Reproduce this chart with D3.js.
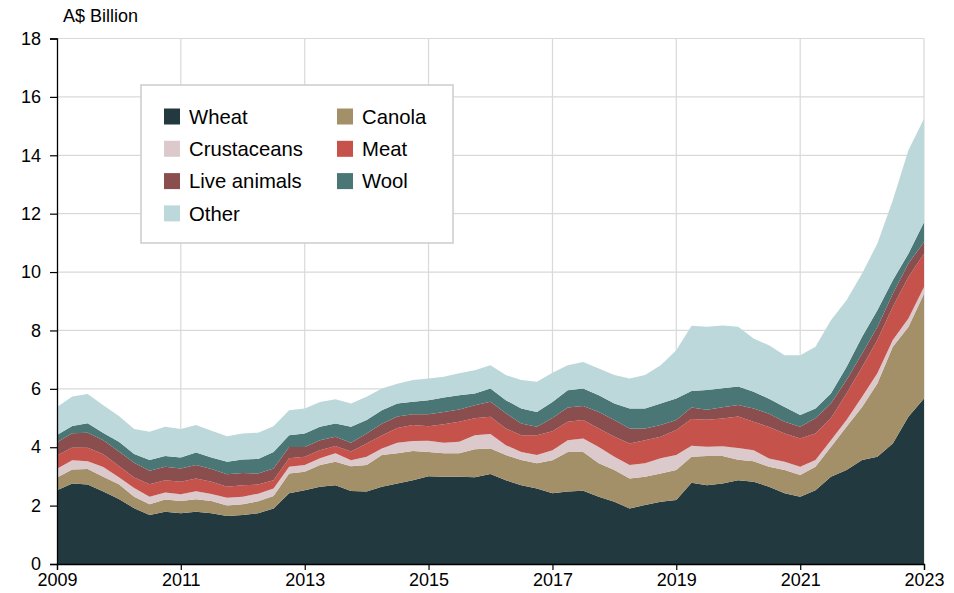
<!DOCTYPE html>
<html>
<head>
<meta charset="utf-8">
<script src="https://cdn.jsdelivr.net/npm/d3@7"></script>
<style>
  body { margin: 0; background: #fff; }
  text { font-family: "Liberation Sans", Arial, sans-serif; fill: #000; }
</style>
</head>
<body>
<svg width="954" height="593"></svg>
<script>
// quarterly values, A$ billion, Jan 2009 .. Jan 2023
var wheat = [2.53,2.76,2.72,2.48,2.23,1.91,1.68,1.79,1.74,1.79,1.74,1.64,1.68,1.74,1.90,2.42,2.53,2.65,2.70,2.50,
  2.48,2.65,2.76,2.87,3.01,2.99,2.99,2.97,3.08,2.87,2.70,2.59,2.42,2.48,2.51,2.30,2.13,1.90,2.02,2.13,
  2.19,2.78,2.70,2.76,2.87,2.82,2.65,2.42,2.30,2.53,2.99,3.22,3.56,3.67,4.13,5.04,5.67];
var canola = [0.43,0.48,0.53,0.51,0.50,0.39,0.37,0.42,0.42,0.43,0.42,0.36,0.37,0.41,0.43,0.68,0.63,0.74,0.80,0.85,
  0.91,1.08,1.03,1.00,0.83,0.80,0.80,0.96,0.88,0.86,0.86,0.86,1.13,1.36,1.33,1.15,1.09,1.03,0.97,0.97,
  1.03,0.89,1.00,0.94,0.70,0.70,0.68,0.80,0.75,0.80,1.02,1.48,1.82,2.51,3.31,3.08,3.59];
var crustaceans = [0.30,0.31,0.27,0.33,0.24,0.30,0.25,0.24,0.23,0.27,0.24,0.27,0.25,0.26,0.26,0.23,0.23,0.23,0.29,0.20,
  0.28,0.23,0.36,0.34,0.38,0.36,0.40,0.48,0.49,0.34,0.28,0.28,0.35,0.40,0.46,0.56,0.45,0.46,0.46,0.52,
  0.51,0.38,0.32,0.33,0.40,0.38,0.28,0.28,0.28,0.23,0.23,0.23,0.35,0.35,0.23,0.29,0.23];
var meat = [0.46,0.44,0.46,0.44,0.39,0.36,0.43,0.42,0.43,0.44,0.42,0.38,0.40,0.31,0.28,0.29,0.28,0.28,0.25,0.30,
  0.46,0.44,0.51,0.55,0.50,0.64,0.68,0.58,0.59,0.57,0.57,0.68,0.65,0.63,0.63,0.63,0.69,0.74,0.79,0.74,
  0.86,0.92,0.92,0.95,1.08,0.97,1.08,0.97,0.97,0.91,0.75,0.91,1.02,1.14,1.14,1.42,1.14];
var liveAnimals = [0.45,0.49,0.52,0.48,0.49,0.51,0.46,0.46,0.45,0.46,0.43,0.42,0.42,0.38,0.40,0.39,0.34,0.34,0.32,0.30,
  0.34,0.40,0.39,0.37,0.41,0.42,0.42,0.45,0.52,0.52,0.40,0.29,0.45,0.49,0.48,0.57,0.57,0.51,0.40,0.40,
  0.34,0.39,0.34,0.39,0.40,0.46,0.46,0.40,0.40,0.52,0.51,0.46,0.46,0.45,0.45,0.46,0.40];
var wool = [0.25,0.25,0.32,0.25,0.34,0.30,0.37,0.37,0.38,0.43,0.40,0.43,0.46,0.50,0.57,0.40,0.46,0.46,0.45,0.55,
  0.46,0.47,0.45,0.43,0.48,0.49,0.49,0.40,0.45,0.45,0.52,0.51,0.55,0.59,0.60,0.57,0.57,0.69,0.69,0.74,
  0.74,0.57,0.68,0.65,0.63,0.57,0.51,0.51,0.40,0.34,0.34,0.45,0.57,0.57,0.46,0.34,0.68];
var other = [0.96,1.01,1.00,0.95,0.88,0.85,0.97,1.00,0.97,0.94,0.91,0.88,0.89,0.90,0.88,0.86,0.86,0.85,0.83,0.80,
  0.80,0.74,0.67,0.74,0.74,0.71,0.75,0.80,0.80,0.86,0.97,1.03,1.00,0.86,0.91,0.92,0.97,1.02,1.14,1.31,
  1.65,2.23,2.17,2.15,2.05,1.82,1.83,1.77,2.05,2.11,2.51,2.28,2.17,2.29,2.74,3.54,3.54];

var seriesNames = ["Wheat", "Canola", "Crustaceans", "Meat", "Live animals", "Wool", "Other"];
var seriesValues = [wheat, canola, crustaceans, meat, liveAnimals, wool, other];
var seriesColors = ["#22393f", "#a39068", "#dbc9cb", "#c5524b", "#8b4e4e", "#4a7676", "#bdd8da"];
var yTicks = [0, 2, 4, 6, 8, 10, 12, 14, 16, 18];
var xTickYears = [2009, 2011, 2013, 2015, 2017, 2019, 2021, 2023];

var dates = d3.timeMonth.range(new Date(2009, 0, 1), new Date(2023, 0, 2), 3);

var rows = dates.map(function(d, i) {
  var r = { date: d };
  seriesNames.forEach(function(k, j) { r[k] = seriesValues[j][i]; });
  return r;
});

var svg = d3.select("svg"),
    plotL = 57, plotR = 924, plotT = 38.5, plotB = 564;

var x = d3.scaleTime()
    .domain([new Date(2009, 0, 1), new Date(2023, 0, 1)])
    .range([plotL, plotR]);
var y = d3.scaleLinear().domain([0, 18]).range([plotB, plotT]);

// grid
var grid = svg.append("g").attr("stroke", "#d9d9d9").attr("stroke-width", 1.2);
grid.selectAll(".h").data(yTicks.slice(1)).enter().append("line")
    .attr("x1", plotL).attr("x2", plotR)
    .attr("y1", function(d) { return y(d); }).attr("y2", function(d) { return y(d); });
grid.selectAll(".v").data(xTickYears.slice(1)).enter().append("line")
    .attr("y1", plotT).attr("y2", plotB)
    .attr("x1", function(d) { return x(new Date(d, 0, 1)); })
    .attr("x2", function(d) { return x(new Date(d, 0, 1)); });

// stacked areas
var stack = d3.stack().keys(seriesNames);
var area = d3.area()
    .x(function(d) { return x(d.data.date); })
    .y0(function(d) { return y(d[0]); })
    .y1(function(d) { return y(d[1]); });

svg.append("g").selectAll("path")
    .data(stack(rows))
    .enter().append("path")
    .attr("d", area)
    .attr("fill", function(d, i) { return seriesColors[i]; });

// axes
var yAxis = svg.append("g")
    .attr("transform", "translate(" + plotL + ",0)")
    .call(d3.axisLeft(y).tickValues(yTicks).tickSize(7).tickPadding(9));
var xAxis = svg.append("g")
    .attr("transform", "translate(0," + plotB + ")")
    .call(d3.axisBottom(x)
      .tickValues(xTickYears.map(function(d) { return new Date(d, 0, 1); }))
      .tickFormat(d3.timeFormat("%Y"))
      .tickSize(6).tickPadding(3));
[yAxis, xAxis].forEach(function(a) {
  a.select(".domain").attr("stroke", "#000").attr("stroke-width", 1.3);
  a.selectAll(".tick line").attr("stroke", "#000").attr("stroke-width", 1.2);
  a.selectAll(".tick text").attr("font-size", 18).attr("font-family", "Liberation Sans, Arial, sans-serif").attr("fill", "#000");
});

svg.append("text")
    .attr("x", 63).attr("y", 22)
    .attr("font-size", 18)
    .text("A$ Billion");

// legend
var legend = svg.append("g");
legend.append("rect")
    .attr("x", 141).attr("y", 85).attr("width", 312).attr("height", 158)
    .attr("fill", "#fff").attr("stroke", "#cccccc").attr("stroke-width", 1.5);

var legendOrder = ["Wheat", "Canola", "Crustaceans", "Meat", "Live animals", "Wool", "Other"];
var item = legend.selectAll(".item")
    .data(legendOrder)
    .enter().append("g")
    .attr("transform", function(d, i) {
      var col = i % 2, row = Math.floor(i / 2);
      return "translate(" + (col ? 337 : 164) + "," + (116.5 + row * 32.3) + ")";
    });
item.append("rect")
    .attr("x", 0).attr("y", -8).attr("width", 16).attr("height", 16)
    .attr("fill", function(d) { return seriesColors[seriesNames.indexOf(d)]; });
item.append("text")
    .attr("x", 25).attr("y", 0).attr("dy", "0.35em")
    .attr("font-size", 20.3)
    .text(function(d) { return d; });
</script>
</body>
</html>
